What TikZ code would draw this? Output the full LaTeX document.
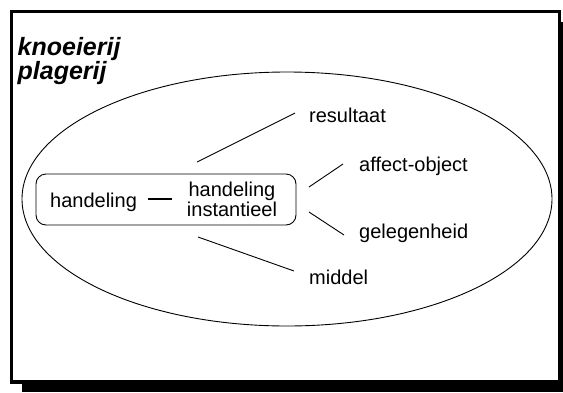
\documentclass[tikz,border=0pt]{standalone}
\usepackage{fontspec}
\setmainfont{Liberation Sans}
\begin{document}
\begin{tikzpicture}[x=1pt,y=-1pt,
  lbl/.style={anchor=base west, inner sep=0pt, font=\fontsize{20}{20}\selectfont},
  conn/.style={line width=0.9pt}]
\useasboundingbox (0,0) rectangle (563,392);
% frame with shadow
\fill[black] (22,22) rectangle (563,392);
\draw[line width=3.5pt, fill=white] (11.5,11.5) rectangle (559.5,382);
% title
\node[anchor=base west, inner sep=0pt, font=\fontsize{25}{21}\selectfont\bfseries\itshape] (title) at (17.5,55.5)
  {\begin{tabular}[t]{@{}l@{}}knoeierij\\plagerij\end{tabular}};
% ellipse
\draw[conn] (287,199) ellipse [x radius=265pt, y radius=127pt];
% central box
\node[draw, conn, rounded corners=10pt, minimum width=260pt, minimum height=51pt, inner sep=0pt] (box) at (166,199.5) {};
\node[lbl] (h1) at (50,207) {handeling};
\node[lbl, anchor=base] (h2) at (232,196) {\begin{tabular}[t]{@{}c@{}}handeling\\instantieel\end{tabular}};
\coordinate (d1) at (148,199);
\coordinate (d2) at (172,199);
\draw[line width=1.6pt] (d1) -- (d2);
% labels
\node[lbl] (res) at (309,122) {resultaat};
\node[lbl] (aff) at (359,171) {affect-object};
\node[lbl] (gel) at (359,238) {gelegenheid};
\node[lbl] (mid) at (309,284) {middel};
% connectors
\coordinate (r1) at (197,162); \coordinate (r2) at (295,113);
\coordinate (a1) at (309,187); \coordinate (a2) at (343,164);
\coordinate (g1) at (309,212); \coordinate (g2) at (344,235);
\coordinate (m1) at (198,237); \coordinate (m2) at (294,271);
\draw[conn] (r1) -- (r2);
\draw[conn] (a1) -- (a2);
\draw[conn] (g1) -- (g2);
\draw[conn] (m1) -- (m2);
\end{tikzpicture}
\end{document}
